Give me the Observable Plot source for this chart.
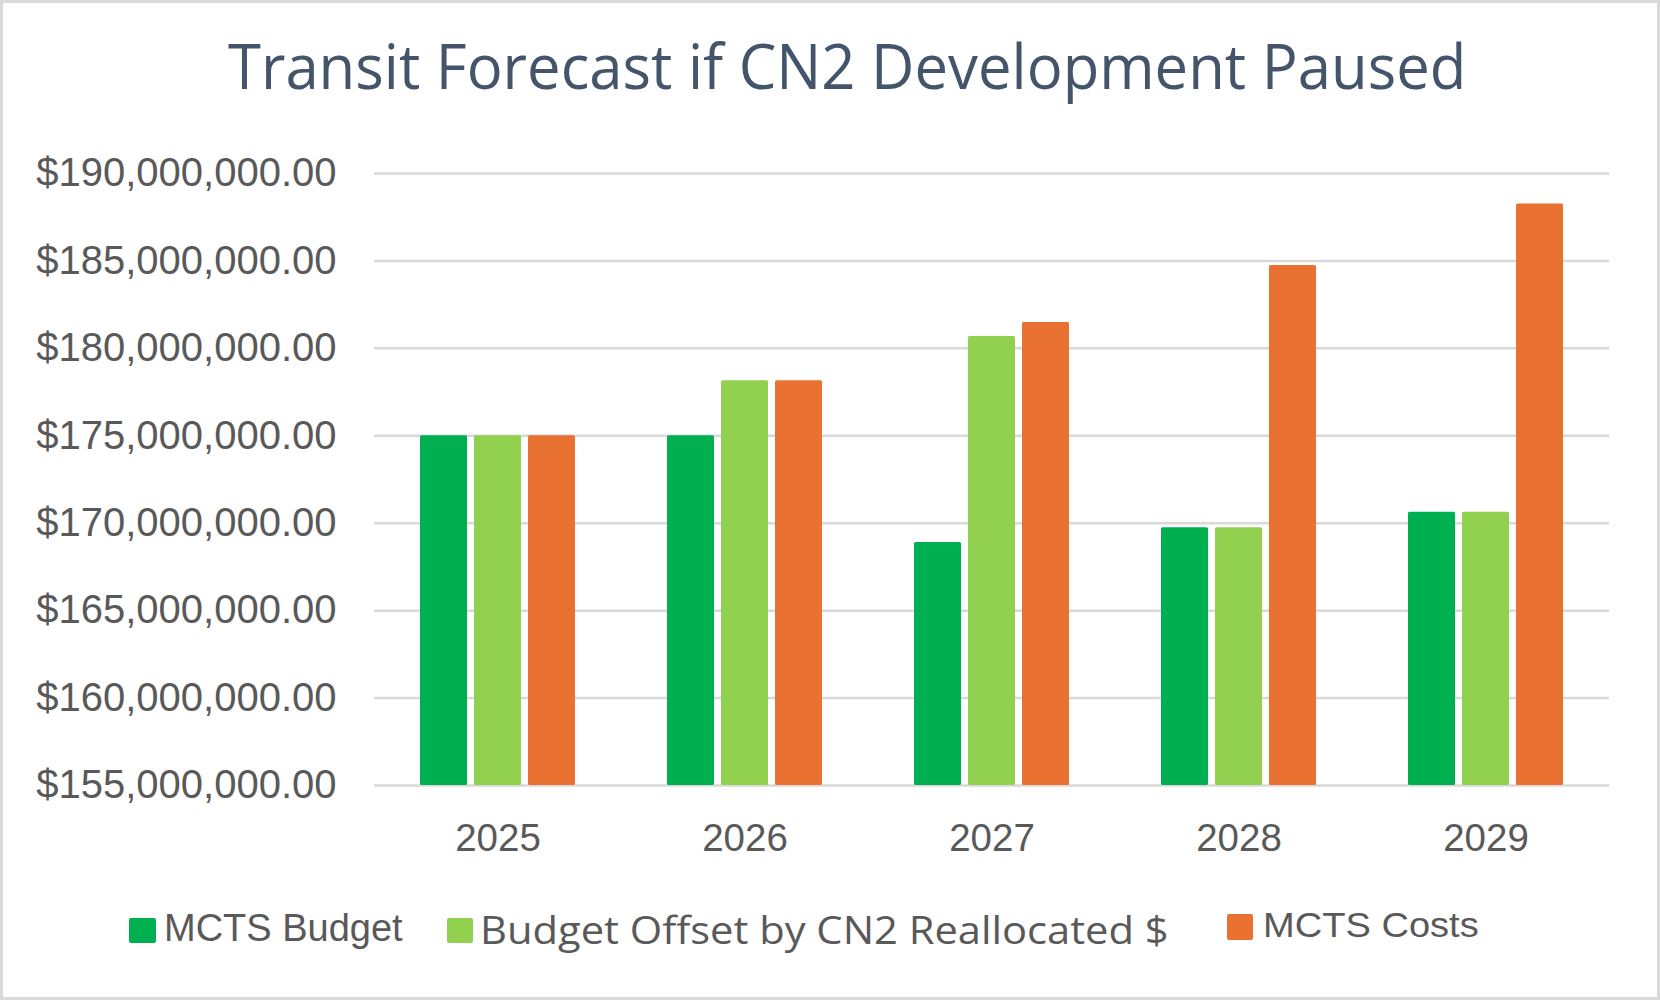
<!DOCTYPE html>
<html><head><meta charset="utf-8">
<script src="https://cdn.jsdelivr.net/npm/d3@7"></script>
<script src="https://cdn.jsdelivr.net/npm/@observablehq/plot@0.6"></script>
<style>
html,body{margin:0;padding:0;background:#fff;}
#wrap{position:relative;width:1660px;height:1000px;overflow:hidden;background:#fff;}
#frame{position:absolute;left:0;top:0;width:1660px;height:1000px;box-sizing:border-box;border:3px solid #d9d9d9;pointer-events:none;}
.t{position:absolute;white-space:nowrap;transform-origin:0 0;line-height:1;margin:0;padding:0;}
#chart{position:absolute;left:0;top:130px;}
.sw{position:absolute;border-radius:2px;}
</style></head>
<body><div id="wrap">
<div id="chart"></div>
<div id="frame"></div>
</div>
<script>
// ---- data ----
const titleText = "Transit Forecast if CN2 Development Paused";
const years = ["2025", "2026", "2027", "2028", "2029"];
const seriesNames = ["MCTS Budget", "Budget Offset by CN2 Reallocated $", "MCTS Costs"];
const mctsBudget = [175000000, 175000000, 168900000, 169740000, 170630000];
const budgetOffset = [175000000, 178150000, 180680000, 169740000, 170630000];
const mctsCosts = [175000000, 178150000, 181480000, 184740000, 188250000];
const seriesColors = ["#00B050", "#92D050", "#E97132"];
const yTicks = [155000000, 160000000, 165000000, 170000000, 175000000, 180000000, 185000000, 190000000];

const seriesValues = [mctsBudget, budgetOffset, mctsCosts];
const data = years.flatMap((yr, i) => seriesNames.map((s, j) => ({year: yr, series: s, value: seriesValues[j][i]})));

const wrap = document.getElementById("wrap");
const canvas = document.createElement("canvas");
const ctx = canvas.getContext("2d");

function placeText(text, o) {
  const el = document.createElement("div");
  el.className = "t";
  el.textContent = text;
  el.style.fontFamily = o.font;
  el.style.fontSize = o.size + "px";
  el.style.fontWeight = o.weight || 400;
  el.style.color = o.color;
  ctx.font = `${o.weight || 400} ${o.size}px ${o.font}`;
  const m = ctx.measureText(text);
  const asc = m.fontBoundingBoxAscent, desc = m.fontBoundingBoxDescent;
  const top = o.baseline - ((o.size - (asc + desc)) / 2 + asc);
  const ink = m.actualBoundingBoxRight + m.actualBoundingBoxLeft;
  const s = o.width / ink;
  el.style.left = (o.x + s * m.actualBoundingBoxLeft) + "px";
  el.style.top = top + "px";
  el.style.transform = `scaleX(${s})`;
  wrap.appendChild(el);
}
function swatch(color, x, y, w, h) {
  const d = document.createElement("div");
  d.className = "sw";
  d.style.background = color;
  d.style.left = x + "px"; d.style.top = y + "px";
  d.style.width = w + "px"; d.style.height = h + "px";
  wrap.appendChild(d);
}

// title
placeText(titleText, {x: 228, baseline: 88.5, width: 1234, font: '"Open Sans"', size: 63, color: "#44546A"});

// chart
const chart = Plot.plot({
  width: 1660, height: 740,
  marginLeft: 373, marginRight: 50, marginTop: 43, marginBottom: 85,
  style: {fontFamily: '"Liberation Sans", Arial, sans-serif', background: "transparent", color: "#595959", overflow: "visible"},
  fx: {domain: years, padding: 0, label: null},
  x: {domain: seriesNames, paddingInner: 0.13, paddingOuter: 0.83, axis: null},
  y: {domain: [155000000, 190000000], clamp: true},
  color: {domain: seriesNames, range: seriesColors},
  marks: [
    Plot.gridY(yTicks, {stroke: "#d9d9d9", strokeOpacity: 1, strokeWidth: 2.5}),
    Plot.barY(data, {fx: "year", x: "series", y: "value", fill: "series", rx: 1.5}),
    Plot.axisY(yTicks, {tickSize: 0, tickPadding: 38, tickFormat: d3.format("$,.2f"), fontSize: 40, fill: "#595959", label: null}),
    Plot.axisFx({anchor: "bottom", tickSize: 0, tickPadding: 38, fontSize: 38.5, fill: "#595959", label: null})
  ]
});
document.getElementById("chart").appendChild(chart);

// legend
swatch(seriesColors[0], 129, 918, 27, 25);
placeText(seriesNames[0], {x: 167, baseline: 941, width: 236, font: '"Liberation Sans", Arial', size: 38, color: "#595959"});
swatch(seriesColors[1], 447, 918, 26, 25);
placeText(seriesNames[1], {x: 483.5, baseline: 944, width: 683, font: '"Open Sans"', size: 39, color: "#595959"});
swatch(seriesColors[2], 1227, 914, 26, 26);
placeText(seriesNames[2], {x: 1265, baseline: 936.7, width: 213, font: '"Liberation Sans", Arial', size: 35, color: "#595959"});
</script>
</body></html>
